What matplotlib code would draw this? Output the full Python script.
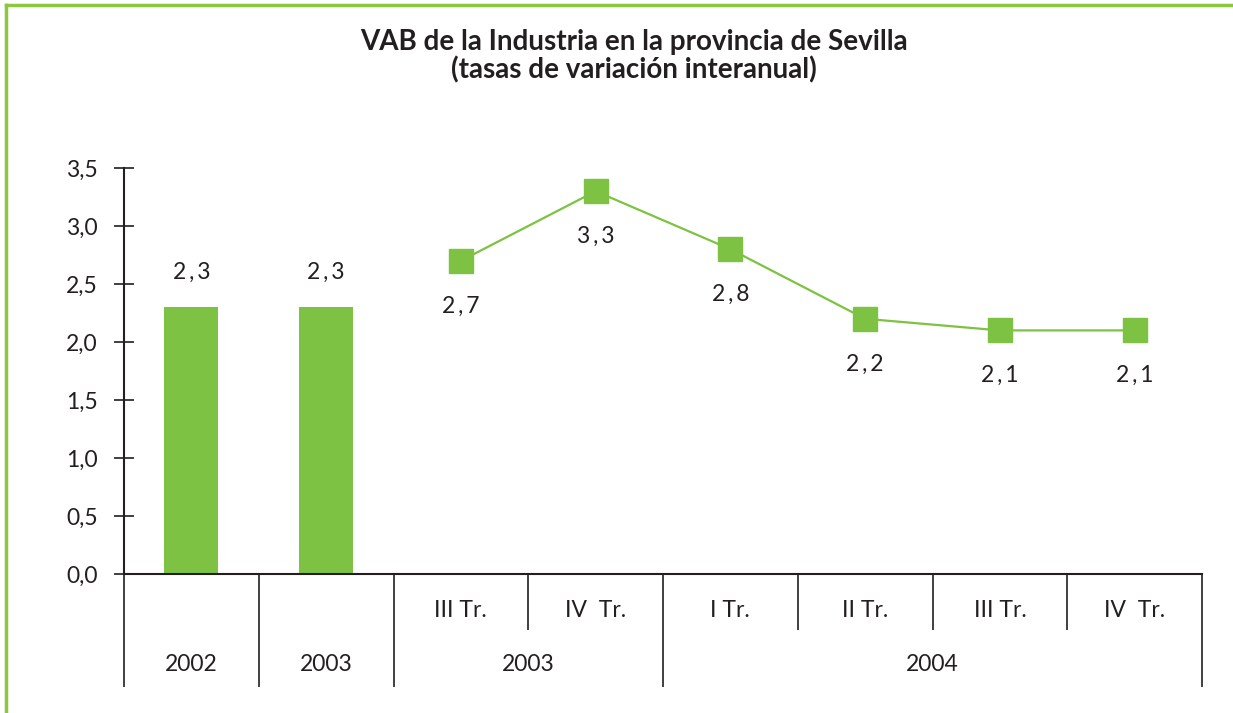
import matplotlib.pyplot as plt
from matplotlib.lines import Line2D

# datos
years_bar = ['2002', '2003']
bar_values = [2.3, 2.3]
quarters = ['III Tr.', 'IV  Tr.', 'I Tr.', 'II Tr.', 'III Tr.', 'IV  Tr.']
line_values = [2.7, 3.3, 2.8, 2.2, 2.1, 2.1]
year_groups = ['2002', '2003', '2003', '2004']
group_spans = [(-0.5, 0.5), (0.5, 1.5), (1.5, 3.5), (3.5, 7.5)]
yticks = [0.0, 0.5, 1.0, 1.5, 2.0, 2.5, 3.0, 3.5]

green = '#7dc242'
txt = '#231f20'
fs = 16.5
plt.rcParams['font.family'] = ['Lato', 'DejaVu Sans']


def fmt(v):
    return ('%.1f' % v).replace('.', '\u2009,\u2009')


fig = plt.figure(figsize=(12.33, 7.13), dpi=100)
ax = fig.add_axes([124 / 1233, 139 / 713, 1078 / 1233, 406 / 713])

# barras anuales
xb = list(range(len(bar_values)))
ax.bar(xb, bar_values, width=0.4, color=green, zorder=2)
for x, v in zip(xb, bar_values):
    ax.text(x, v + 0.3, fmt(v), ha='center', va='center', fontsize=fs, color=txt)

# serie trimestral
xl = [i + len(bar_values) for i in range(len(line_values))]
ax.plot(xl, line_values, color=green, lw=1.6, marker='s', markersize=17,
        markerfacecolor=green, markeredgecolor=green, zorder=3)
for x, v in zip(xl, line_values):
    ax.text(x, v - 0.39, fmt(v), ha='center', va='center', fontsize=fs, color=txt)

ax.set_xlim(-0.5, 7.5)
ax.set_ylim(0, 3.5)
ax.set_yticks(yticks)
ax.set_yticklabels([('%.1f' % t).replace('.', ',') for t in yticks], fontsize=fs, color=txt)
ax.tick_params(axis='y', direction='inout', length=14, width=1.2, pad=12, colors=txt)
ax.set_xticks([])
for s in ['top', 'right']:
    ax.spines[s].set_visible(False)
for s in ['left', 'bottom']:
    ax.spines[s].set_linewidth(1.5)
    ax.spines[s].set_color(txt)

# tabla de categorias bajo el eje
tr = ax.get_xaxis_transform()
full = [-0.5, 0.5, 1.5, 3.5, 7.5]
short = [2.5, 4.5, 5.5, 6.5]
ax.vlines(full, -0.278, 0, transform=tr, color=txt, lw=1.2, clip_on=False)
ax.vlines(short, -0.138, 0, transform=tr, color=txt, lw=1.2, clip_on=False)
for x, q in zip(xl, quarters):
    ax.text(x, -0.089, q, transform=tr, ha='center', va='center', fontsize=fs, color=txt)
for (a, b), g in zip(group_spans, year_groups):
    ax.text((a + b) / 2, -0.224, g, transform=tr, ha='center', va='center',
            fontsize=fs, color=txt)

fig.text(0.514, 0.921, 'VAB de la Industria en la provincia de Sevilla\n(tasas de variación interanual)',
         ha='center', va='center', fontsize=20, fontweight='bold', color=txt,
         linespacing=1.05)

# marco verde
fig.add_artist(Line2D([6 / 1233, 6 / 1233], [0, 1 - 5 / 713], color='#8dc63f', lw=2.5))
fig.add_artist(Line2D([6 / 1233, 1], [1 - 5 / 713, 1 - 5 / 713], color='#8dc63f', lw=2.5))

fig.savefig('out.png', dpi=100)
